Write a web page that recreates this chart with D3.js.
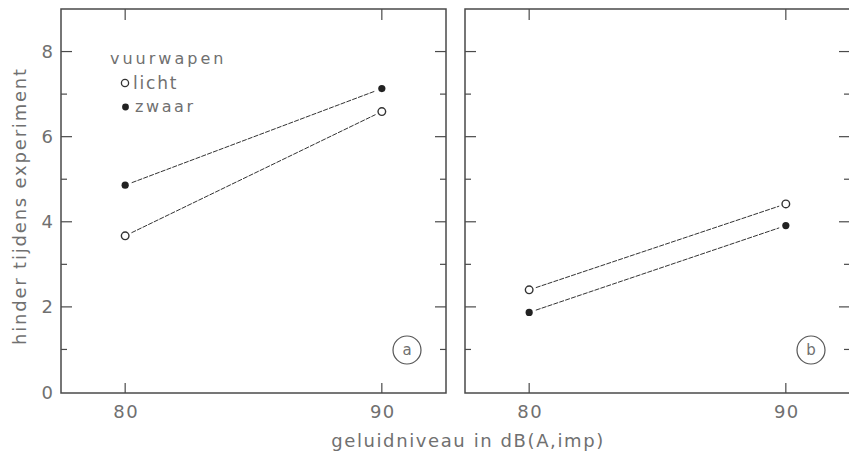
<!DOCTYPE html>
<html>
<head>
<meta charset="utf-8">
<script src="https://cdn.jsdelivr.net/npm/d3@7"></script>
<style>
  body { margin: 0; background: #fff; }
  svg { display: block; }
  text { font-family: "DejaVu Sans", sans-serif; fill: #707070; }
</style>
</head>
<body>
<div id="chart"></div>
<script>
// geluidniveau (x) en hinder (y) per paneel
const levels = [80, 90];
const panelIds = ["a", "b"];
const lichtA = [3.67, 6.59];
const zwaarA = [4.86, 7.13];
const lichtB = [2.40, 4.42];
const zwaarB = [1.87, 3.91];
const yMajor = [0, 2, 4, 6, 8];
const yMinor = [1, 3, 5, 7];
const legendTitle = "vuurwapen";
const seriesNames = ["licht", "zwaar"];

const W = 849, H = 455;
const svg = d3.select("#chart").append("svg")
  .attr("width", W).attr("height", H);

const panels = [
  { id: panelIds[0], left: 61, licht: lichtA, zwaar: zwaarA },
  { id: panelIds[1], left: 465, licht: lichtB, zwaar: zwaarB }
];
const pw = 385, frameTop = 9, frameBottom = 393;
const axisColor = "#4a4a4a";

const y = d3.scaleLinear().domain([0, 9]).range([frameBottom - 1, frameTop]);

panels.forEach((p, pi) => {
  const x = d3.scaleLinear().domain([77.5, 92.5]).range([p.left, p.left + pw]);
  const g = svg.append("g");

  // kader
  g.append("rect")
    .attr("x", p.left).attr("y", frameTop)
    .attr("width", pw).attr("height", frameBottom - frameTop)
    .attr("fill", "none").attr("stroke", axisColor).attr("stroke-width", 1.5);

  // y-streepjes (binnenkant, links en rechts)
  const yt = yMajor.filter(v => v > 0).map(v => ({ v, len: 11 }))
    .concat(yMinor.map(v => ({ v, len: 6 })));
  [p.left, p.left + pw].forEach((bx, side) => {
    g.selectAll(null).data(yt).enter().append("line")
      .attr("x1", bx)
      .attr("x2", d => side === 0 ? bx + d.len : bx - d.len)
      .attr("y1", d => y(d.v)).attr("y2", d => y(d.v))
      .attr("stroke", axisColor).attr("stroke-width", 1.2);
  });

  // x-streepjes (boven en onder)
  [frameTop, frameBottom].forEach((by, side) => {
    g.selectAll(null).data(levels).enter().append("line")
      .attr("x1", d => x(d)).attr("x2", d => x(d))
      .attr("y1", by).attr("y2", side === 0 ? by + 11 : by - 10)
      .attr("stroke", axisColor).attr("stroke-width", 1.2);
  });

  // x-labels
  g.selectAll(null).data(levels).enter().append("text")
    .attr("x", d => x(d) + 1).attr("y", 418)
    .attr("text-anchor", "middle")
    .style("font-size", "18px")
    .style("letter-spacing", "1.5px")
    .text(d => d);

  // y-labels alleen bij paneel a
  if (pi === 0) {
    g.selectAll(null).data(yMajor).enter().append("text")
      .attr("x", 53).attr("y", d => y(d) + 6.5)
      .attr("text-anchor", "end")
      .style("font-size", "18px")
      .text(d => d);
  }

  // lijnen met kleine opening bij de punten
  [p.licht, p.zwaar].forEach(vals => {
    const x1 = x(levels[0]), y1 = y(vals[0]);
    const x2 = x(levels[1]), y2 = y(vals[1]);
    const dx = x2 - x1, dy = y2 - y1, L = Math.hypot(dx, dy);
    const gap = 7;
    g.append("line")
      .attr("x1", x1 + dx / L * gap).attr("y1", y1 + dy / L * gap)
      .attr("x2", x2 - dx / L * gap).attr("y2", y2 - dy / L * gap)
      .attr("stroke", "#333").attr("stroke-width", 1)
      .attr("stroke-dasharray", "5,1.2");
  });

  // punten
  g.selectAll(null).data(levels).enter().append("circle")
    .attr("cx", d => x(d)).attr("cy", (d, i) => y(p.licht[i]))
    .attr("r", 3.8)
    .attr("fill", "#fff").attr("stroke", "#333").attr("stroke-width", 1.4);
  g.selectAll(null).data(levels).enter().append("circle")
    .attr("cx", d => x(d)).attr("cy", (d, i) => y(p.zwaar[i]))
    .attr("r", 3.6)
    .attr("fill", "#222");

  // paneel-letter in cirkel
  const cx = p.left + pw - 39, cy = 350;
  g.append("circle").attr("cx", cx).attr("cy", cy).attr("r", 14)
    .attr("fill", "none").attr("stroke", "#555").attr("stroke-width", 1.2);
  g.append("text").attr("x", cx).attr("y", cy + 5)
    .attr("text-anchor", "middle")
    .style("font-size", "15px")
    .text(p.id);
});

// legenda
svg.append("text").attr("x", 110).attr("y", 64)
  .style("font-size", "16px").style("letter-spacing", "3px").text(legendTitle);
svg.append("circle").attr("cx", 125).attr("cy", 83).attr("r", 3.6)
  .attr("fill", "#fff").attr("stroke", "#333").attr("stroke-width", 1.3);
svg.append("text").attr("x", 133).attr("y", 89)
  .style("font-size", "17px").style("letter-spacing", "1.8px").text(seriesNames[0]);
svg.append("circle").attr("cx", 125.5).attr("cy", 107).attr("r", 3.4)
  .attr("fill", "#222");
svg.append("text").attr("x", 135).attr("y", 112)
  .style("font-size", "16px").style("letter-spacing", "2.6px").text(seriesNames[1]);

// as-titels
svg.append("text")
  .attr("transform", "translate(26,206) rotate(-90)")
  .attr("text-anchor", "middle")
  .style("font-size", "18px")
  .style("letter-spacing", "1.8px")
  .text("hinder tijdens experiment");
svg.append("text")
  .attr("x", 468).attr("y", 447)
  .attr("text-anchor", "middle")
  .style("font-size", "18px")
  .style("letter-spacing", "1.6px")
  .text("geluidniveau in dB(A,imp)");
</script>
</body>
</html>
